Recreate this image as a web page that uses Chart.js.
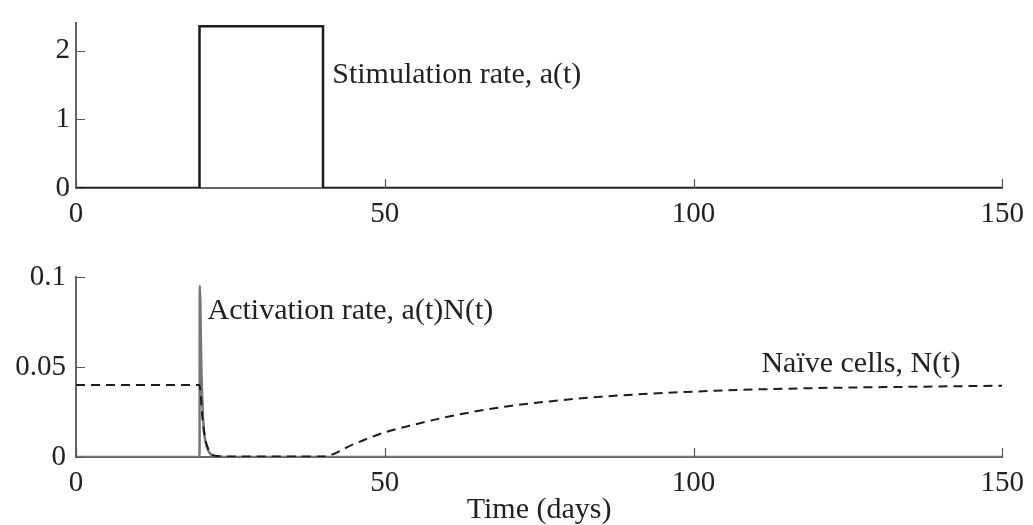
<!DOCTYPE html>
<html>
<head>
<meta charset="utf-8">
<script src="https://cdn.jsdelivr.net/npm/chart.js@4/dist/chart.umd.min.js"></script>
<style>
    body { margin: 0; background: #fff; }
    .wrap { position: relative; width: 1033px; height: 525px; }
    canvas { position: absolute; left: 0; }
    #top { top: 0; }
    #bottom { top: 245px; }
</style>
</head>
<body>
<div class="wrap">
    <canvas id="top" width="1033" height="240"></canvas>
    <canvas id="bottom" width="1033" height="280"></canvas>
</div>
<script>
// Stimulation rate a(t)
const stimTimes = [0, 20, 20, 40, 40, 150];
const stimValues = [0, 0, 2.36, 2.36, 0, 0];

// Activation rate a(t)N(t)
const actTimes = [0, 20, 20.05, 20.3, 20.6, 21, 21.5, 22, 23, 25, 150];
const actValues = [0, 0, 0.095, 0.05, 0.02, 0.008, 0.003, 0.001, 0.0003, 0, 0];

// Naive cells N(t)
const naiveTimes = [0, 20, 20.5, 21, 21.5, 22, 23, 25, 40, 45, 50, 55, 60, 65, 70, 77, 85, 95, 105, 120, 135, 150];
const naiveValues = [0.04, 0.04, 0.021, 0.009, 0.004, 0.0015, 0.0005, 0.0003, 0.0003, 0.0072, 0.0137, 0.0182, 0.0222, 0.0255, 0.0282, 0.031, 0.0335, 0.0355, 0.037, 0.0383, 0.039, 0.0396];

const xTicks = [0, 50, 100, 150];
const yTicksTop = [0, 1, 2];
const yTicksBottom = [0, 0.05, 0.1];

const serif = '"Liberation Serif", "DejaVu Serif", serif';
Chart.defaults.font.family = serif;
Chart.defaults.color = '#222';

function pts(xs, ys) {
    return xs.map((x, i) => ({ x: x, y: ys[i] }));
}

// draws the small tick marks pointing into the plot
const inwardTicks = {
    id: 'inwardTicks',
    afterDraw(chart) {
        const ctx = chart.ctx;
        const xs = chart.scales.x, ys = chart.scales.y;
        ctx.save();
        ctx.strokeStyle = '#555';
        ctx.lineWidth = 1.2;
        ctx.beginPath();
        xs.ticks.forEach(t => {
            const px = Math.round(xs.getPixelForValue(t.value)) + 0.5;
            ctx.moveTo(px, xs.top);
            ctx.lineTo(px, xs.top - 9);
        });
        ys.ticks.forEach(t => {
            const py = Math.round(ys.getPixelForValue(t.value)) + 0.5;
            ctx.moveTo(ys.right, py);
            ctx.lineTo(ys.right + 9, py);
        });
        ctx.stroke();
        ctx.restore();
    }
};

const notes = {
    id: 'notes',
    afterDatasetsDraw(chart, args, opts) {
        const ctx = chart.ctx;
        ctx.save();
        ctx.font = '30px ' + serif;
        ctx.fillStyle = '#222';
        ctx.textAlign = 'left';
        ctx.textBaseline = 'middle';
        (opts.items || []).forEach(n => {
            ctx.fillText(n.text, chart.scales.x.getPixelForValue(n.x), chart.scales.y.getPixelForValue(n.y));
        });
        ctx.restore();
    }
};

function xAxis(height, withTitle) {
    return {
        type: 'linear',
        min: 0,
        max: 150,
        afterBuildTicks: s => { s.ticks = xTicks.map(v => ({ value: v })); },
        afterFit: s => { s.height = height; },
        grid: { display: false, drawTicks: false },
        border: { color: '#666', width: 2 },
        ticks: { font: { size: 29 }, padding: 9, maxRotation: 0, color: '#222' },
        title: withTitle ? { display: true, text: 'Time (days)', font: { size: 30 }, padding: { top: 0, bottom: -3 }, color: '#222' } : { display: false }
    };
}

function yAxis(max, tickVals, pad) {
    return {
        type: 'linear',
        min: 0,
        max: max,
        afterBuildTicks: s => { s.ticks = tickVals.map(v => ({ value: v })); },
        afterFit: s => { s.width = 76; },
        grid: { display: false, drawTicks: false },
        border: { color: '#666', width: 2 },
        ticks: { font: { size: 29 }, padding: pad, color: '#222', callback: v => String(v) }
    };
}

new Chart(document.getElementById('top'), {
    type: 'line',
    data: {
        datasets: [{
            data: pts(stimTimes, stimValues),
            borderColor: '#1c1c1c',
            borderWidth: 2.5,
            pointRadius: 0,
            tension: 0
        }]
    },
    options: {
        responsive: false,
        animation: false,
        layout: { padding: { top: 8, right: 29, left: 0, bottom: 0 } },
        scales: { x: xAxis(52, false), y: yAxis(2.4, yTicksTop, 6) },
        plugins: {
            legend: { display: false },
            tooltip: { enabled: false },
            notes: { items: [{ text: 'Stimulation rate, a(t)', x: 41.5, y: 1.65 }] }
        }
    },
    plugins: [inwardTicks, notes]
});

new Chart(document.getElementById('bottom'), {
    type: 'line',
    data: {
        datasets: [{
            data: pts(naiveTimes, naiveValues),
            borderColor: '#1c1c1c',
            borderWidth: 2,
            borderDash: [9, 6],
            pointRadius: 0,
            cubicInterpolationMode: 'monotone'
        }, {
            data: pts(actTimes, actValues),
            borderColor: '#777',
            borderWidth: 2.5,
            pointRadius: 0,
            cubicInterpolationMode: 'monotone'
        }]
    },
    options: {
        responsive: false,
        animation: false,
        layout: { padding: { top: 32, right: 29, left: 0, bottom: 0 } },
        scales: { x: xAxis(68, true), y: yAxis(0.1, yTicksBottom, 10) },
        plugins: {
            legend: { display: false },
            tooltip: { enabled: false },
            notes: { items: [
                { text: 'Activation rate, a(t)N(t)', x: 21.3, y: 0.0811 },
                { text: 'Naïve cells, N(t)', x: 111, y: 0.0517 }
            ] }
        }
    },
    plugins: [inwardTicks, notes]
});
</script>
</body>
</html>
